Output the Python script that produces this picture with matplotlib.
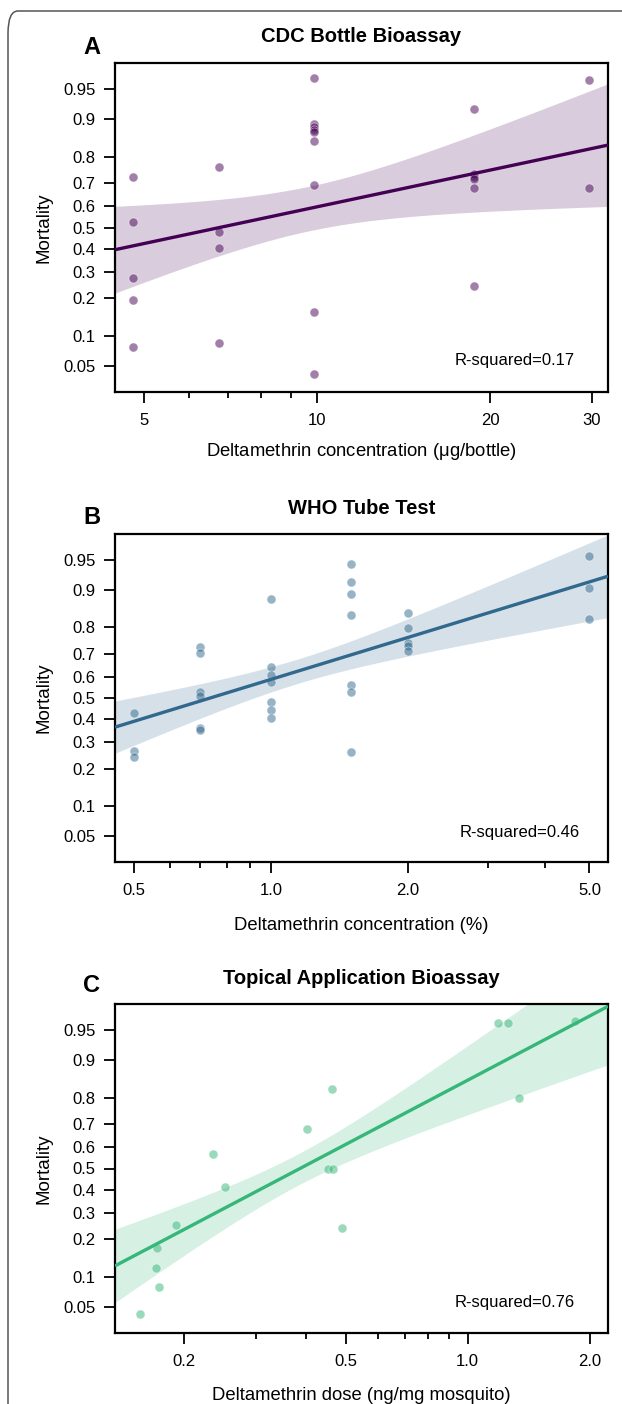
import numpy as np
import matplotlib
matplotlib.use("Agg")
import matplotlib.pyplot as plt
from matplotlib.patches import FancyBboxPatch
from statistics import NormalDist

plt.rcParams['font.family'] = ['Liberation Sans', 'DejaVu Sans']

# ---------------- data ----------------
# Panel A: CDC bottle bioassay (ug/bottle)
cdc_dose = [4.8, 4.8, 4.8, 4.8, 4.8,
            6.75, 6.75, 6.75, 6.75,
            9.9, 9.9, 9.9, 9.9, 9.9, 9.9, 9.9, 9.9, 9.9,
            18.75, 18.75, 18.75, 18.75, 18.75, 18.75,
            29.7, 29.7]
cdc_mort = [0.724, 0.524, 0.274, 0.195, 0.079,
            0.762, 0.481, 0.404, 0.085,
            0.962, 0.891, 0.883, 0.877, 0.871, 0.847, 0.694, 0.158, 0.041,
            0.920, 0.737, 0.725, 0.716, 0.681, 0.244,
            0.960, 0.681]

# Panel B: WHO tube test (%)
who_dose = [0.5, 0.5, 0.5,
            0.7, 0.7, 0.7, 0.7, 0.7, 0.7,
            1.0, 1.0, 1.0, 1.0, 1.0, 1.0, 1.0,
            1.5, 1.5, 1.5, 1.5, 1.5, 1.5, 1.5,
            2.0, 2.0, 2.0, 2.0, 2.0,
            5.0, 5.0, 5.0]
who_mort = [0.430, 0.264, 0.243,
            0.729, 0.702, 0.527, 0.511, 0.362, 0.350,
            0.880, 0.643, 0.609, 0.577, 0.481, 0.442, 0.404,
            0.944, 0.916, 0.892, 0.839, 0.562, 0.527, 0.262,
            0.845, 0.799, 0.742, 0.732, 0.713,
            0.954, 0.904, 0.827]

# Panel C: topical application (ng/mg mosquito)
top_dose = [0.156, 0.170, 0.1715, 0.173, 0.1905, 0.236, 0.252, 0.402,
            0.452, 0.465, 0.462, 0.490, 1.186, 1.258, 1.34, 1.84]
top_mort = [0.042, 0.120, 0.174, 0.080, 0.251, 0.566, 0.4155, 0.680,
            0.500, 0.500, 0.827, 0.241, 0.958, 0.958, 0.800, 0.960]

# fitted probit-vs-log10(dose) lines
fit_intercept = [-1.204, 0.221, 1.046]
fit_slope = [1.449, 1.659, 2.530]
# 95% confidence band: half-width = sqrt(h0^2 + g^2 (log10 x - c)^2)
band_center = [0.987, 0.057, -0.419]
band_min = [0.264, 0.145, 0.186]
band_growth = [1.308, 0.689, 0.871]

titles = ["CDC Bottle Bioassay", "WHO Tube Test", "Topical Application Bioassay"]
letters = ["A", "B", "C"]
xlabels = ["Deltamethrin concentration ($\\mathregular{\\mu}$g/bottle)",
           "Deltamethrin concentration (%)",
           "Deltamethrin dose (ng/mg mosquito)"]
r2_labels = ["R-squared=0.17", "R-squared=0.46", "R-squared=0.76"]
colors = ["#440154", "#31688E", "#35B779"]

x_limits = [(4.46, 32.0), (0.455, 5.49), (0.135, 2.22)]
x_major = [[5, 10, 20, 30], [0.5, 1.0, 2.0, 5.0], [0.2, 0.5, 1.0, 2.0]]
x_major_lab = [["5", "10", "20", "30"], ["0.5", "1.0", "2.0", "5.0"],
               ["0.2", "0.5", "1.0", "2.0"]]
x_minor = [[6, 7, 8, 9], [0.6, 0.7, 0.8, 0.9, 3, 4],
           [0.3, 0.4, 0.6, 0.7, 0.8, 0.9]]
y_ticks = [0.05, 0.1, 0.2, 0.3, 0.4, 0.5, 0.6, 0.7, 0.8, 0.9, 0.95]
y_ticklabels = ["0.05", "0.1", "0.2", "0.3", "0.4", "0.5", "0.6", "0.7",
                "0.8", "0.9", "0.95"]

# ---------------- probit scale ----------------
_nd = NormalDist()
_ppf = np.vectorize(_nd.inv_cdf, otypes=[float])
_cdf = np.vectorize(_nd.cdf, otypes=[float])


def probit(p):
    p = np.clip(np.asarray(p, dtype=float), 1e-12, 1 - 1e-12)
    return _ppf(p)


def inv_probit(z):
    return _cdf(np.asarray(z, dtype=float))


W, H = 622, 1404
fig = plt.figure(figsize=(W / 100, H / 100), dpi=100)

# rounded frame
frame = FancyBboxPatch((8 / W, -0.05), 1.2, 1 - 11 / H + 0.05,
                       boxstyle="round,pad=0,rounding_size=0.016",
                       transform=fig.transFigure, fill=False,
                       edgecolor="#555555", linewidth=1.1, clip_on=False)
fig.patches.append(frame)

ax_top = [63, 534, 1004]
ax_bot = [392, 862, 1333]
ax_left, ax_right = 115, 608
title_y = [37, 508, 978]
letter_y = [48, 518, 985]
xlabel_y = [452, 926, 1395]
r2_y = [361, 832, 1302]
r2_x = [575, 580, 575]

datasets = [(cdc_dose, cdc_mort), (who_dose, who_mort), (top_dose, top_mort)]

for i in range(3):
    ax = fig.add_axes([ax_left / W, 1 - ax_bot[i] / H,
                       (ax_right - ax_left) / W, (ax_bot[i] - ax_top[i]) / H])
    ax.set_xscale("log")
    ax.set_yscale("function", functions=(probit, inv_probit))
    x = np.asarray(datasets[i][0], float)
    y = np.asarray(datasets[i][1], float)

    gx = np.linspace(np.log10(x_limits[i][0]), np.log10(x_limits[i][1]), 300)
    fit = fit_intercept[i] + fit_slope[i] * gx
    hw = np.sqrt(band_min[i]**2 + band_growth[i]**2 * (gx - band_center[i])**2)
    ax.fill_between(10**gx, inv_probit(fit - hw), inv_probit(fit + hw),
                    color=colors[i], alpha=0.2, linewidth=0, zorder=1)
    ax.scatter(x, y, s=42, color=colors[i], alpha=0.5, edgecolors="white",
               linewidths=0.6, zorder=2)
    ax.plot(10**gx, inv_probit(fit), color=colors[i], lw=2.4, zorder=3,
            solid_capstyle="butt")

    ax.set_xlim(*x_limits[i])
    ax.set_ylim(inv_probit(-1.95), inv_probit(1.95))
    ax.set_yticks(y_ticks)
    ax.set_yticklabels(y_ticklabels)
    ax.yaxis.set_minor_locator(matplotlib.ticker.NullLocator())
    ax.set_xticks(x_major[i])
    ax.set_xticklabels(x_major_lab[i])
    ax.set_xticks(x_minor[i], minor=True)
    ax.xaxis.set_minor_formatter(matplotlib.ticker.NullFormatter())
    ax.tick_params(axis="both", which="major", direction="out", length=8,
                   width=1.3, labelsize=12, colors="black")
    ax.tick_params(axis="x", which="major", pad=7)
    ax.tick_params(axis="y", which="major", pad=6)
    ax.tick_params(axis="x", which="minor", direction="out", length=4,
                   width=1.3)
    for sp in ax.spines.values():
        sp.set_linewidth(1.6)
    ax.text(r2_x[i] / W, 1 - r2_y[i] / H, r2_labels[i], transform=fig.transFigure,
            ha="right", va="center", fontsize=12)
    fig.text((ax_left + ax_right) / 2 / W, 1 - title_y[i] / H, titles[i],
             ha="center", va="center", fontsize=14.5, fontweight="bold")
    fig.text(92 / W, 1 - letter_y[i] / H, letters[i], ha="center", va="center",
             fontsize=17, fontweight="bold")
    fig.text((ax_left + ax_right) / 2 / W, 1 - xlabel_y[i] / H, xlabels[i],
             ha="center", va="center", fontsize=13.3)
    fig.text(44 / W, 1 - (ax_top[i] + ax_bot[i]) / 2 / H, "Mortality",
             ha="center", va="center", rotation=90, fontsize=13.5)

fig.savefig("out.png", dpi=100)
